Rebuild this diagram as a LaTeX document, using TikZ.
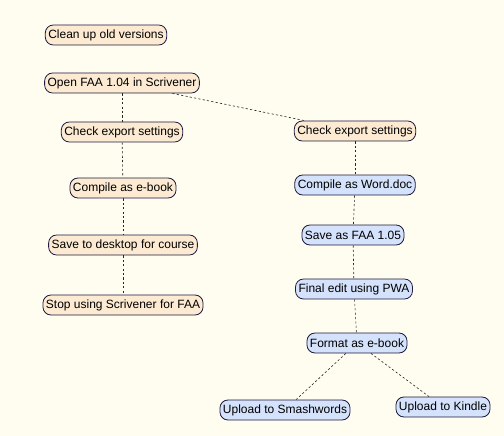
\documentclass[tikz,border=0pt]{standalone}
\usepackage{fontspec}
\setmainfont{Liberation Sans}
\usetikzlibrary{positioning}
\definecolor{paperbg}{RGB}{255, 252, 240}
\definecolor{beigefill}{RGB}{252, 235, 210}
\definecolor{bluefill}{RGB}{212, 226, 251}
\definecolor{inkline}{RGB}{30, 26, 64}

\begin{document}
\begin{tikzpicture}[
        x=1pt, y=-1pt,
        tarea/.style={
            rectangle,
            rounded corners=8pt,
            fill=beigefill,
            draw=inkline,
            line width=0.8pt,
            minimum height=20pt,
            inner xsep=3pt,
            inner ysep=2pt,
            font=\fontsize{12}{14}\selectfont
        },
        tareaazul/.style={
            tarea,
            fill=bluefill
        },
        enlace/.style={
            dashed,
            dash pattern=on 2.2pt off 2.2pt,
            line width=0.6pt,
            draw=black!85
        }
    ]
        \fill[paperbg] (0,0) rectangle (504,436);
        \useasboundingbox (0,0) rectangle (504,436);

        \node[tarea] (limpiar) at (106,35) {Clean up old versions};
        \node[tarea] (abrir) at (122,83) {Open FAA 1.04 in Scrivener};

        \node[tarea] (checkL) at (122,132) {Check export settings};
        \node[tarea] (ebook) at (123,188) {Compile as e-book};
        \node[tarea] (desktop) at (123,245) {Save to desktop for course};
        \node[tarea] (stop) at (123,305) {Stop using Scrivener for FAA};

        \node[tarea] (checkR) at (355,131) {Check export settings};
        \node[tareaazul] (word) at (355,185) {Compile as Word.doc};
        \node[tareaazul] (save) at (353,235) {Save as FAA 1.05};
        \node[tareaazul] (pwa) at (354,289) {Final edit using PWA};
        \node[tareaazul] (format) at (357,343) {Format as e-book};
        \node[tareaazul] (smash) at (285,410) {Upload to Smashwords};
        \node[tareaazul] (kindle) at (443,407) {Upload to Kindle};

        \draw[enlace] (abrir) -- (checkL);
        \draw[enlace] (abrir) -- (checkR);
        \draw[enlace] (checkL) -- (ebook);
        \draw[enlace] (ebook) -- (desktop);
        \draw[enlace] (desktop) -- (stop);
        \draw[enlace] (checkR) -- (word);
        \draw[enlace] (word) -- (save);
        \draw[enlace] (save) -- (pwa);
        \draw[enlace] (pwa) -- (format);
        \draw[enlace] (format) -- (smash);
        \draw[enlace] (format) -- (kindle);
    \end{tikzpicture}
\end{document}
